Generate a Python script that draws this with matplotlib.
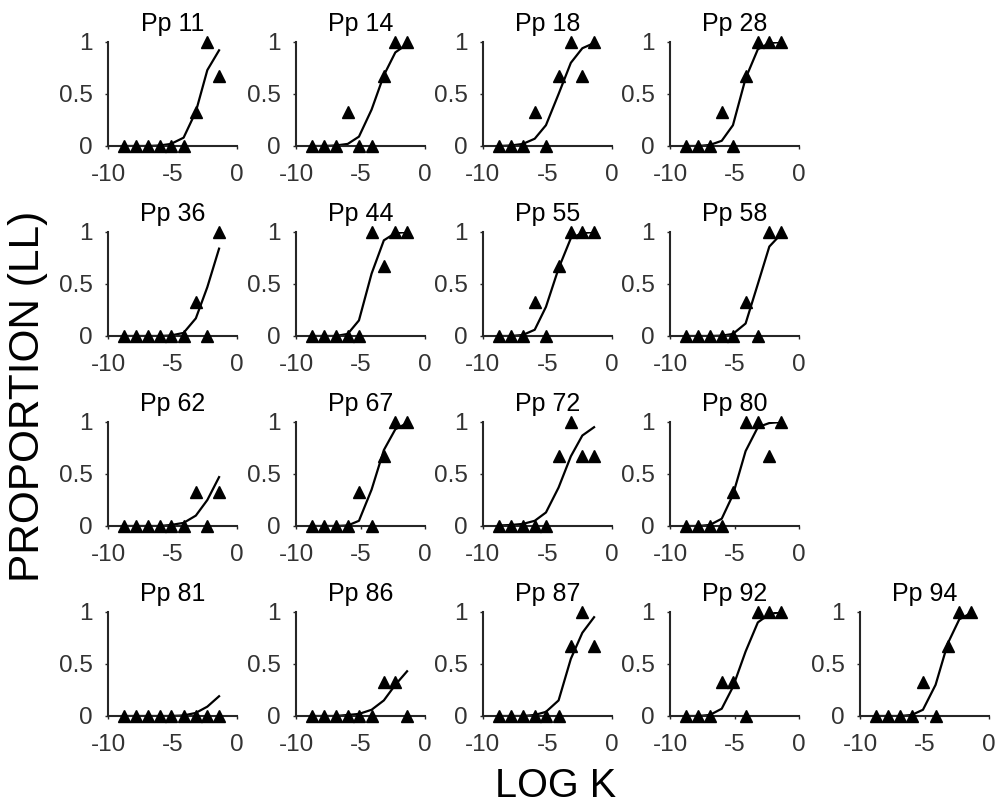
import matplotlib
matplotlib.use('Agg')
import matplotlib.pyplot as plt

plt.rcParams['font.family'] = ['Liberation Sans', 'DejaVu Sans']

# log k of the nine choice questions
log_k = [-8.74, -7.82, -6.91, -5.99, -5.12, -4.14, -3.19, -2.30, -1.39]

labels = ['Pp 11', 'Pp 14', 'Pp 18', 'Pp 28',
          'Pp 36', 'Pp 44', 'Pp 55', 'Pp 58',
          'Pp 62', 'Pp 67', 'Pp 72', 'Pp 80',
          'Pp 81', 'Pp 86', 'Pp 87', 'Pp 92', 'Pp 94']

# observed proportion of LL choices
obs_11 = [0, 0, 0, 0, 0, 0, 0.33, 1, 0.67]
obs_14 = [0, 0, 0, 0.33, 0, 0, 0.67, 1, 1]
obs_18 = [0, 0, 0, 0.33, 0, 0.67, 1, 0.67, 1]
obs_28 = [0, 0, 0, 0.33, 0, 0.67, 1, 1, 1]
obs_36 = [0, 0, 0, 0, 0, 0, 0.33, 0, 1]
obs_44 = [0, 0, 0, 0, 0, 1, 0.67, 1, 1]
obs_55 = [0, 0, 0, 0.33, 0, 0.67, 1, 1, 1]
obs_58 = [0, 0, 0, 0, 0, 0.33, 0, 1, 1]
obs_62 = [0, 0, 0, 0, 0, 0, 0.33, 0, 0.33]
obs_67 = [0, 0, 0, 0, 0.33, 0, 0.67, 1, 1]
obs_72 = [0, 0, 0, 0, 0, 0.67, 1, 0.67, 0.67]
obs_80 = [0, 0, 0, 0, 0.33, 1, 1, 0.67, 1]
obs_81 = [0, 0, 0, 0, 0, 0, 0, 0, 0]
obs_86 = [0, 0, 0, 0, 0, 0, 0.33, 0.33, 0]
obs_87 = [0, 0, 0, 0, 0, 0, 0.67, 1, 0.67]
obs_92 = [0, 0, 0, 0.33, 0.33, 0, 1, 1, 1]
obs_94 = [0, 0, 0, 0, 0.33, 0, 0.67, 1, 1]

# fitted logistic curve at the same log k values
fit_11 = [0, 0, 0, 0.005, 0.02, 0.08, 0.33, 0.73, 0.92]
fit_14 = [0, 0, 0.005, 0.02, 0.09, 0.35, 0.68, 0.9, 0.98]
fit_18 = [0, 0.005, 0.02, 0.07, 0.2, 0.5, 0.8, 0.94, 0.99]
fit_28 = [0, 0, 0.01, 0.05, 0.2, 0.65, 0.93, 0.99, 1]
fit_36 = [0, 0, 0, 0, 0.005, 0.03, 0.17, 0.47, 0.84]
fit_44 = [0, 0, 0, 0.02, 0.15, 0.6, 0.92, 0.99, 1]
fit_55 = [0, 0, 0.01, 0.06, 0.28, 0.65, 0.94, 0.99, 1]
fit_58 = [0, 0, 0, 0.003, 0.02, 0.12, 0.5, 0.86, 0.98]
fit_62 = [0, 0, 0, 0, 0.01, 0.03, 0.1, 0.25, 0.47]
fit_67 = [0, 0, 0, 0.005, 0.05, 0.35, 0.73, 0.93, 0.99]
fit_72 = [0.005, 0.01, 0.02, 0.05, 0.13, 0.37, 0.67, 0.87, 0.95]
fit_80 = [0, 0, 0.01, 0.07, 0.3, 0.72, 0.95, 0.99, 1]
fit_81 = [0, 0, 0, 0, 0, 0.005, 0.03, 0.09, 0.19]
fit_86 = [0, 0, 0, 0.01, 0.02, 0.06, 0.15, 0.3, 0.43]
fit_87 = [0, 0, 0, 0.01, 0.04, 0.15, 0.55, 0.8, 0.95]
fit_92 = [0, 0, 0.01, 0.07, 0.28, 0.62, 0.9, 0.98, 1]
fit_94 = [0, 0, 0, 0.01, 0.06, 0.3, 0.7, 0.93, 0.99]

observed = [obs_11, obs_14, obs_18, obs_28, obs_36, obs_44, obs_55, obs_58,
            obs_62, obs_67, obs_72, obs_80, obs_81, obs_86, obs_87, obs_92, obs_94]
fitted = [fit_11, fit_14, fit_18, fit_28, fit_36, fit_44, fit_55, fit_58,
          fit_62, fit_67, fit_72, fit_80, fit_81, fit_86, fit_87, fit_92, fit_94]

W, H = 1000, 808
col_left = [108, 296, 483, 670, 860]
row_top = [42, 232, 422, 612]
ax_w, ax_h = 129, 104
# panels per row: 4, 4, 4, 5
cells = [(r, c) for r in range(3) for c in range(4)] + [(3, c) for c in range(5)]

fig = plt.figure(figsize=(W / 100, H / 100), dpi=100)
ink = '#262626'

for (r, c), lab, yobs, yfit in zip(cells, labels, observed, fitted):
    ax = fig.add_axes([col_left[c] / W, 1 - (row_top[r] + ax_h) / H, ax_w / W, ax_h / H])
    ax.plot(log_k, yfit, color='black', lw=1.6, zorder=2)
    ax.plot(log_k, yobs, ls='none', marker='^', ms=8, color='black',
            clip_on=False, zorder=3)
    ax.set_xlim(-10, 0)
    ax.set_ylim(0, 1)
    ax.set_xticks([-10, -5, 0])
    ax.set_yticks([0, 0.5, 1])
    ax.set_xticklabels(['-10', '-5', '0'])
    ax.set_yticklabels(['0', '0.5', '1'])
    for s in ['top', 'right']:
        ax.spines[s].set_visible(False)
    for s in ['left', 'bottom']:
        ax.spines[s].set_color(ink)
        ax.spines[s].set_linewidth(1.5)
    ax.tick_params(axis='both', length=2, width=1, color=ink,
                   labelcolor='#333333', labelsize=17.5)
    ax.tick_params(axis='x', pad=11)
    ax.tick_params(axis='y', pad=9)
    ax.set_title(lab, fontsize=18, pad=8)

fig.text(0.028, 0.51, 'PROPORTION (LL)', rotation=90, fontsize=30.5,
         ha='center', va='center')
fig.text(0.556, 0.027, 'LOG K', fontsize=28.5, ha='center', va='center')

plt.savefig('out.png', dpi=100)
